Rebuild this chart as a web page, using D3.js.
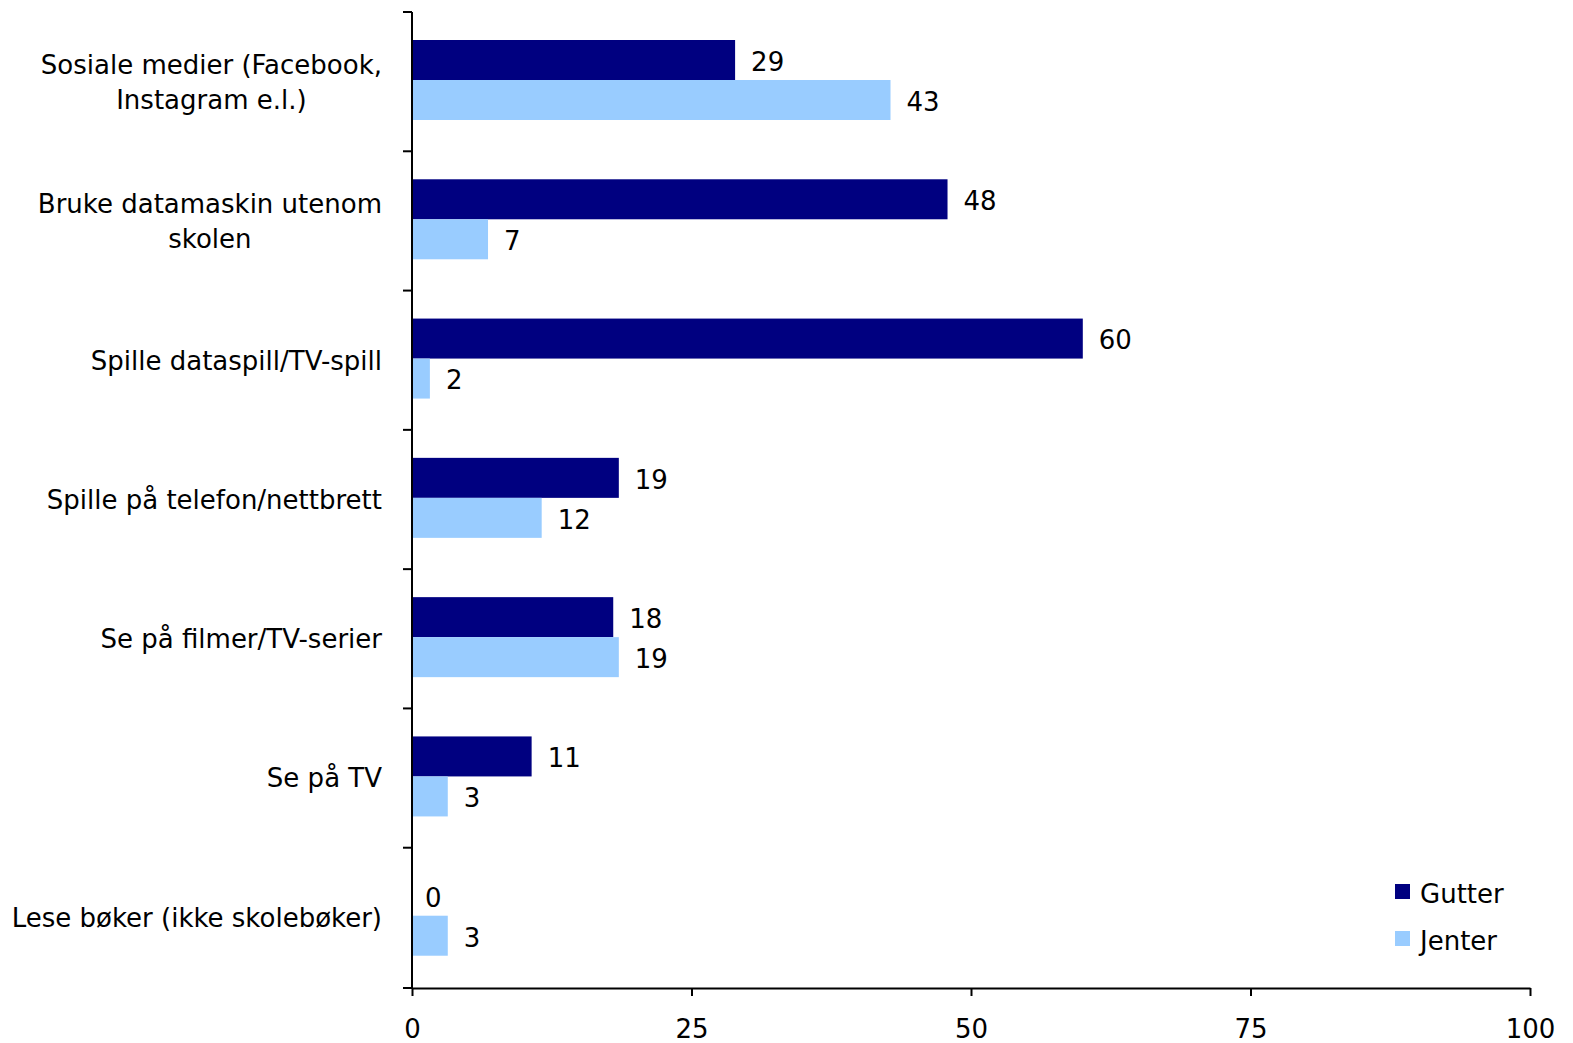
<!DOCTYPE html>
<html><head><meta charset="utf-8">
<script src="https://cdn.jsdelivr.net/npm/d3@7"></script>
<style>
body{margin:0;background:#fff;}
text{font-family:"DejaVu Sans",sans-serif;fill:#000;}
</style></head>
<body><svg id="c" width="1573" height="1043"></svg>
<script>
const categories = [
  ["Sosiale medier (Facebook,","Instagram e.l.)"],
  ["Bruke datamaskin utenom","skolen"],
  ["Spille dataspill/TV-spill"],
  ["Spille på telefon/nettbrett"],
  ["Se på filmer/TV-serier"],
  ["Se på TV"],
  ["Lese bøker (ikke skolebøker)"]
];
const seriesNames = ["Gutter","Jenter"];
const gutter = [28.9, 47.9, 60.0, 18.5, 18.0, 10.7, 0];
const jenter = [42.8, 6.8, 1.6, 11.6, 18.5, 3.2, 3.2];
const xTicks = [0, 25, 50, 75, 100];
const colors = ["#000080", "#99CCFF"];

(function(){
const svg = d3.select("#c");
const mLeft = 412, mRight = 1530, mTop = 12, mBottom = 987;
const x = d3.scaleLinear().domain([0,100]).range([mLeft,mRight]);
const ids = categories.map((c,i)=>i);
const y = d3.scaleBand().domain(ids).range([mTop,mBottom]);
const y1 = d3.scaleBand().domain(seriesNames).range([28,108]);
const seriesVals = [gutter, jenter];
const fmt = d3.format(".0f");
const fs = 26;

// bars
seriesNames.forEach((s,si)=>{
  const g = svg.append("g");
  g.selectAll("rect").data(seriesVals[si]).enter().append("rect")
    .attr("x", x(0)).attr("y",(d,i)=>y(i)+y1(s))
    .attr("width", d=>x(d)-x(0)).attr("height", y1.bandwidth())
    .attr("fill", colors[si]);
  g.selectAll("text").data(seriesVals[si]).enter().append("text")
    .attr("x", d=>x(d)+ (d===0?13:16)).attr("y",(d,i)=>y(i)+y1(s)+y1.bandwidth()/2)
    .attr("dy","0.42em").attr("font-size",fs).text(d=>fmt(d));
});

// y axis
const yAxis = svg.append("g");
yAxis.append("line").attr("x1",mLeft).attr("x2",mLeft).attr("y1",mTop).attr("y2",mBottom+1).attr("stroke","#000").attr("stroke-width",2);
const yTickPos = ids.map(i=>y(i)).concat([mBottom+1]);
yAxis.selectAll("line.t").data(yTickPos).enter().append("line").attr("class","t")
  .attr("x1",mLeft-9).attr("x2",mLeft).attr("y1",d=>d).attr("y2",d=>d).attr("stroke","#000").attr("stroke-width",2);

// category labels
const labelRight = 382;
categories.forEach((lines,i)=>{
  const t = svg.append("text").attr("font-size",fs).attr("text-anchor","middle");
  const cy = y(i)+y.bandwidth()/2;
  const lh = 35;
  lines.forEach((ln,j)=>{
    t.append("tspan").attr("y", cy + (j-(lines.length-1)/2)*lh).attr("dy","0.36em").text(ln);
  });
  let maxW = 0;
  t.selectAll("tspan").each(function(){maxW=Math.max(maxW,this.getComputedTextLength());});
  t.selectAll("tspan").attr("x", labelRight - maxW/2);
});

// x axis
const xAxis = svg.append("g").attr("transform",`translate(0,${mBottom+1})`)
  .call(d3.axisBottom(x).tickValues(xTicks).tickSize(8).tickPadding(24).tickSizeOuter(0));
xAxis.select(".domain").attr("stroke","#000").attr("stroke-width",2);
xAxis.selectAll(".tick line").attr("stroke","#000").attr("stroke-width",2);
xAxis.selectAll(".tick text").attr("font-size",fs).attr("font-family",null);

// legend
const lg = svg.append("g");
seriesNames.forEach((s,i)=>{
  const ly = 892 + i*47;
  lg.append("rect").attr("x",1395).attr("y",ly-8).attr("width",15).attr("height",15).attr("fill",colors[i]);
  lg.append("text").attr("x",1420).attr("y",ly).attr("dy","0.42em").attr("font-size",fs).text(s);
});
})();
</script></body></html>
